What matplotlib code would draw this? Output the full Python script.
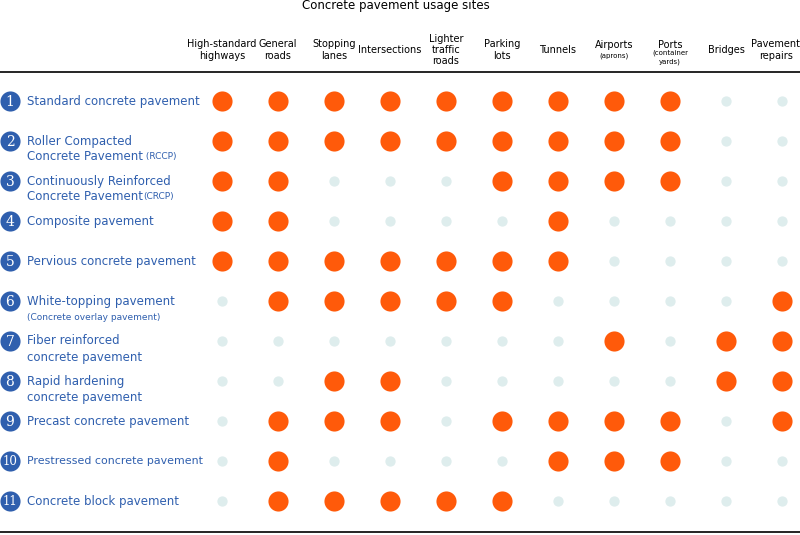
import matplotlib.pyplot as plt

# usage sites (columns) and pavement types (rows)
sites = ["High-standard\nhighways", "General\nroads", "Stopping\nlanes", "Intersections",
         "Lighter\ntraffic\nroads", "Parking\nlots", "Tunnels", "Airports", "Ports",
         "Bridges", "Pavement\nrepairs"]
site_notes = ["", "", "", "", "", "", "", "(aprons)", "(container\nyards)", "", ""]

pavements = ["Standard concrete pavement",
             "Roller Compacted\nConcrete Pavement",
             "Continuously Reinforced\nConcrete Pavement",
             "Composite pavement",
             "Pervious concrete pavement",
             "White-topping pavement",
             "Fiber reinforced\nconcrete pavement",
             "Rapid hardening\nconcrete pavement",
             "Precast concrete pavement",
             "Prestressed concrete pavement",
             "Concrete block pavement"]
pavement_suffix = ["", " (RCCP)", "(CRCP)", "", "", "", "", "", "", "", ""]
pavement_note = ["", "", "", "", "", "(Concrete overlay pavement)", "", "", "", "", ""]

usage = [
    [1, 1, 1, 1, 1, 1, 1, 1, 1, 0, 0],
    [1, 1, 1, 1, 1, 1, 1, 1, 1, 0, 0],
    [1, 1, 0, 0, 0, 1, 1, 1, 1, 0, 0],
    [1, 1, 0, 0, 0, 0, 1, 0, 0, 0, 0],
    [1, 1, 1, 1, 1, 1, 1, 0, 0, 0, 0],
    [0, 1, 1, 1, 1, 1, 0, 0, 0, 0, 1],
    [0, 0, 0, 0, 0, 0, 0, 1, 0, 1, 1],
    [0, 0, 1, 1, 0, 0, 0, 0, 0, 1, 1],
    [0, 1, 1, 1, 0, 1, 1, 1, 1, 0, 1],
    [0, 1, 0, 0, 0, 0, 1, 1, 1, 0, 0],
    [0, 1, 1, 1, 1, 1, 0, 0, 0, 0, 0],
]

orange = "#ff5a0a"
grey = "#deeded"
blue = "#2f5fae"

fig = plt.figure(figsize=(8, 5.35), dpi=100)
ax = fig.add_axes([0, 0, 1, 1])
ax.set_xlim(0, 800)
ax.set_ylim(535, 0)
ax.axis("off")

col_x = [222 + 56 * i for i in range(len(sites))]
row_y = [101 + 40 * j for j in range(len(pavements))]

# dots
for j, row in enumerate(usage):
    for i, v in enumerate(row):
        if v:
            ax.scatter(col_x[i], row_y[j], s=210, color=orange, lw=0, zorder=2)
        else:
            ax.scatter(col_x[i], row_y[j], s=55, color=grey, lw=0, zorder=2)

# header
ax.text(396, 5, "Concrete pavement usage sites", ha="center", va="center", fontsize=8.5)
for i, s in enumerate(sites):
    x = col_x[i] if i < len(sites) - 1 else 776
    if site_notes[i]:
        ax.text(x, 45, s, ha="center", va="center", fontsize=7)
        ax.text(x, 57 if "\n" in site_notes[i] else 56, site_notes[i],
                ha="center", va="center", fontsize=5, linespacing=1.5)
    else:
        ax.text(x, 50, s, ha="center", va="center", fontsize=7, linespacing=1.15)
ax.plot([0, 800], [72, 72], color="black", lw=1.2)
ax.plot([0, 800], [532, 532], color="black", lw=1.2)

# row labels
for j, p in enumerate(pavements):
    y = row_y[j]
    ax.scatter(10, y, s=210, color=blue, lw=0, zorder=3)
    ax.text(10, y + 0.5, str(j + 1), ha="center", va="center", color="white",
            fontsize=10 if j < 9 else 8.5, family="DejaVu Serif", zorder=4)
    lines = p.split("\n")
    for k, line in enumerate(lines):
        t = ax.text(27, y + 16 * k, line, ha="left", va="center", color=blue,
                    fontsize=8.5 if j != 9 else 7.9, zorder=5,
                    bbox=dict(facecolor="white", edgecolor="none", pad=0) if j == 9 else None)
        if k == len(lines) - 1 and pavement_suffix[j]:
            ax.annotate(pavement_suffix[j], xy=(1, 0.5), xycoords=t, ha="left",
                        va="center", color=blue, fontsize=6.5)
    if pavement_note[j]:
        ax.text(27, y + 17, pavement_note[j], ha="left", va="center", color=blue,
                fontsize=6.5)

fig.savefig("out.png", dpi=100)
